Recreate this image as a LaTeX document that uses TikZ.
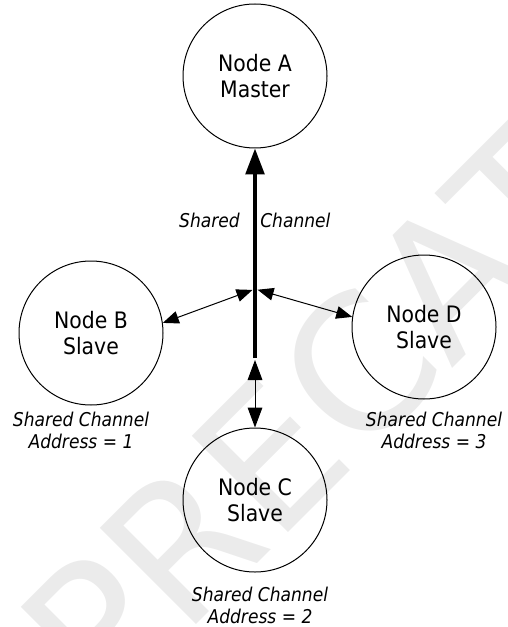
\documentclass[tikz,border=0pt]{standalone}
\usepackage{fontspec}
\setmainfont{DejaVu Sans Condensed}
\newfontfamily\wmfont{DejaVu Sans}
\usetikzlibrary{arrows.meta}
\definecolor{wmgray}{HTML}{EBEBEB}
\begin{document}
\begin{tikzpicture}[x=0.75pt,y=-0.75pt,
  nodecirc/.style={circle,draw=black,line width=0.75pt,minimum size=108pt,inner sep=0pt,align=center,
    font=\fontsize{17}{19.5}\selectfont},
  lbl/.style={align=center,inner sep=0pt,font=\fontsize{14.25}{16.5}\selectfont\itshape},
  bus/.style={line width=2.8pt,-{Triangle[length=19.5pt,width=14pt]}},
  link/.style={line width=0.75pt,{Triangle[length=12pt,width=9.5pt]}-{Triangle[length=12pt,width=9.5pt]}},
  vlink/.style={line width=0.75pt,{Triangle[length=15pt,width=11pt]}-{Triangle[length=15pt,width=11pt]}}]
\useasboundingbox (0,0) rectangle (507,627);
% watermark
\node[rotate=45,text=wmgray,inner sep=0pt,font=\wmfont\fontsize{140}{140}\selectfont] (wm) at (310,415) {DEPRECATED};
% nodes
\node[nodecirc] (A) at (255,76) {Node A\\Master};
\node[nodecirc] (B) at (91,333) {Node B\\Slave};
\node[nodecirc] (C) at (255,500) {Node C\\Slave};
\node[nodecirc] (D) at (424,327) {Node D\\Slave};
% junction points
\coordinate (J) at (255,289);
\coordinate (T) at (255,358);
\coordinate (U) at (255,360);
% connectors
\draw[bus] (T) -- (A);
\draw[link,shorten <=2pt] (J) -- (B.8);
\draw[link,shorten <=2pt] (J) -- (D.172);
\draw[vlink] (U) -- (C);
% labels
\node[lbl,anchor=east] (s1) at (240,220) {Shared};
\node[lbl,anchor=west] (s2) at (260,220) {Channel};
\node[lbl] (lb) at (81,430) {Shared Channel\\Address = 1};
\node[lbl] (lc) at (260,605) {Shared Channel\\Address = 2};
\node[lbl] (ld) at (434,430) {Shared Channel\\Address = 3};
\end{tikzpicture}
\end{document}
